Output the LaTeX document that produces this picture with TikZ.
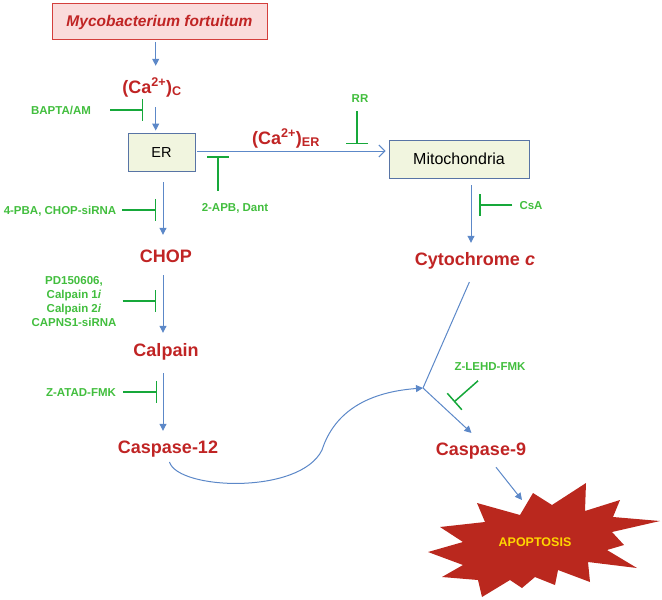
\documentclass[tikz,border=0pt]{standalone}
\usepackage{fontspec}
\setmainfont{Liberation Sans}
\usetikzlibrary{arrows.meta}
\definecolor{redtxt}{RGB}{192,36,36}
\definecolor{greentxt}{RGB}{66,190,62}
\definecolor{greenln}{RGB}{22,168,58}
\definecolor{bluearr}{RGB}{92,136,200}
\definecolor{mycofill}{RGB}{250,219,219}
\definecolor{mycodraw}{RGB}{212,62,60}
\definecolor{boxfill}{RGB}{241,245,223}
\definecolor{boxdraw}{RGB}{88,116,165}
\definecolor{apopfill}{RGB}{186,40,30}
\definecolor{apoptxt}{RGB}{255,214,0}
\begin{document}
\begin{tikzpicture}[x=1pt,y=-1pt,
  redlab/.style={inner sep=0pt, anchor=base, text=redtxt, text height=13pt, text depth=4pt,
    font=\fontsize{18}{20}\selectfont\bfseries},
  greenlab/.style={inner sep=0pt, anchor=base, text=greentxt, text height=8.3pt, text depth=0pt,
    font=\fontsize{11.5}{13.8}\selectfont\bfseries},
  cellbox/.style={draw=boxdraw, fill=boxfill, line width=0.9pt, inner sep=0pt, text height=10.4pt, text depth=0pt},
  arr/.style={draw=bluearr, line width=1pt, -{Triangle[length=7pt,width=7pt]}},
  plainln/.style={draw=bluearr, line width=1pt},
  openarr/.style={draw=bluearr, line width=1pt, -{Straight Barb[length=6pt,width=12pt,line width=1pt]}},
  inh/.style={draw=greenln, line width=1.5pt, -{Bar[width=22pt]}}
]
\useasboundingbox (0,0) rectangle (662,600);

% boxes
\node[draw=mycodraw, fill=mycofill, line width=0.9pt, minimum width=215pt, minimum height=36pt,
  inner sep=0pt, text height=11.1pt, text depth=0pt, text=redtxt,
  font=\fontsize{15.5}{17}\selectfont\bfseries\itshape] (myco) at (159.5,21) {Mycobacterium fortuitum};
\node[cellbox, minimum width=67pt, minimum height=38pt, font=\fontsize{14.5}{16}\selectfont] (er) at (161.5,152) {ER};
\node[cellbox, minimum width=140pt, minimum height=38pt, font=\fontsize{16}{18}\selectfont] (mito) at (459,159) {Mitochondria};

% red labels
\node[redlab] (cac) at (152,93) {(Ca\textsuperscript{2+})\textsubscript{C}};
\node[redlab] (caer) at (286,144) {(Ca\textsuperscript{2+})\textsubscript{ER}};
\node[redlab] (chop) at (166,262) {CHOP};
\node[redlab] (calpain) at (166,356) {Calpain};
\node[redlab] (casp12) at (168,453) {Caspase-12};
\node[redlab] (cyto) at (475,265) {Cytochrome \textit{c}};
\node[redlab] (casp9) at (481,455) {Caspase-9};

% green labels
\node[greenlab] (bapta) at (61,114) {BAPTA/AM};
\node[greenlab] (rr) at (360,102) {RR};
\node[greenlab] (apb) at (235,211) {2-APB, Dant};
\node[greenlab] (pba) at (60,214) {4-PBA, CHOP-siRNA};
\node[inner sep=0pt, anchor=north, text=greentxt, align=center,
  font=\fontsize{11.5}{14}\selectfont\bfseries] (pd) at (74,276.5) {PD150606,\\Calpain 1\textit{i}\\Calpain 2\textit{i}\\CAPNS1-siRNA};
\node[greenlab] (zatad) at (81,396) {Z-ATAD-FMK};
\node[greenlab] (csa) at (531,209) {CsA};
\node[greenlab] (zlehd) at (490,370) {Z-LEHD-FMK};

% apoptosis star
\fill[apopfill] (520,515) -- (533,493) -- (552,505) -- (586,483) -- (585,511) -- (620,500)
  -- (613,517) -- (660,521) -- (612,532) -- (624,545) -- (607,550) -- (637,568) -- (588,562)
  -- (590,582) -- (558,570) -- (555,585) -- (535,577) -- (522,588) -- (510,580) -- (482,597)
  -- (478,580) -- (442,577) -- (463,565) -- (428,552) -- (463,542) -- (440,527) -- (485,522)
  -- (477,503) -- cycle;
\node[inner sep=0pt, anchor=base, text=apoptxt, font=\fontsize{12.5}{14}\selectfont\bfseries] (apop) at (535,546) {APOPTOSIS};
\coordinate (apoptip) at (522,500);

% column coordinates
\coordinate (colA) at (155.7,0);
\coordinate (colB) at (163,0);
\coordinate (colC) at (471,0);
\coordinate (j) at (423,388);

% blue connectors
\draw[arr, shorten <=3pt, shorten >=14pt] (myco.south -| colA) -- (cac.north -| colA);
\draw[arr, shorten <=10pt, shorten >=2pt] (cac.south -| colA) -- (er.north -| colA);
\draw[openarr, shorten <=2pt, shorten >=3pt] ([yshift=1pt]er.east) -- ([yshift=1pt]er.east -| mito.west);
\draw[arr, shorten <=11pt, shorten >=14pt] (er.south -| colB) -- (chop.north -| colB);
\draw[arr, shorten <=9pt, shorten >=10pt] (chop.south -| colB) -- (calpain.north -| colB);
\draw[arr, shorten <=13pt, shorten >=9pt] (calpain.south -| colB) -- (casp12.north -| colB);
\draw[arr, shorten <=7pt, shorten >=9pt] (mito.south -| colC) -- (cyto.north -| colC);
\draw[plainln, shorten <=14pt] (cyto.south) -- (j);
\draw[arr, shorten >=13pt] (j) -- (casp9.north);
\draw[arr, shorten <=5pt] (casp12.south) .. controls (178,490) and (300,495) .. (322,450)
  .. controls (335,410) and (370,392) .. (j);
\draw[arr] (casp9.south) ++(15,8) -- (apoptip);

% inhibitors
\coordinate (b1) at (143,110);
\coordinate (b2) at (357,144);
\coordinate (b3) at (218,156);
\coordinate (b4) at (156,210);
\coordinate (b5) at (156,301);
\coordinate (b6) at (157,392);
\coordinate (b7) at (479,206);
\coordinate (b8) at (454,402);
\draw[inh, shorten <=19pt] (bapta.east) -- (bapta.east -| b1);
\draw[inh, shorten <=9pt] (rr.south -| b2) -- (b2);
\draw[inh, shorten <=12pt] (apb.north -| b3) -- (b3);
\draw[inh, shorten <=6pt] (pba.east) -- (pba.east -| b4);
\draw[inh, shorten <=6pt] (pd.east |- b5) -- (b5);
\draw[inh, shorten <=7pt] (zatad.east) -- (zatad.east -| b6);
\draw[inh, shorten <=7pt] (csa.west) -- (csa.west -| b7);
\draw[inh, shorten <=16pt] (zlehd.south) -- (b8);
\end{tikzpicture}
\end{document}
